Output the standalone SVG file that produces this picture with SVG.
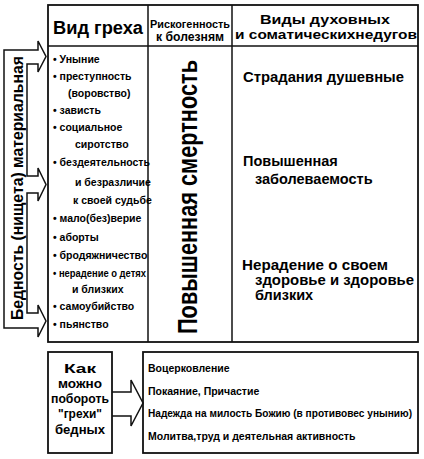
<svg xmlns="http://www.w3.org/2000/svg" width="424" height="459" viewBox="0 0 424 459">
<style>
.box{fill:#fff;stroke:#111;stroke-width:1.8}
.ln{fill:none;stroke:#111;stroke-width:1.5}
.t{font-family:"Liberation Sans",Arial,sans-serif;font-weight:bold;fill:#000}
.item{font-size:10.5px}
.h3{font-size:14.5px}
.bt{font-size:10.5px}
.mid{text-anchor:middle}
</style>
<rect width="424" height="459" fill="#fff"/>

<g id="table">
  <rect class="box" x="48" y="5" width="370" height="337"/>
  <line class="ln" x1="48" y1="46" x2="418" y2="46"/>
  <line class="ln" x1="148" y1="5" x2="148" y2="342"/>
  <line class="ln" x1="232" y1="5" x2="232" y2="342"/>
</g>

<g id="header-sin">
  <text class="t mid" x="98" y="34" font-size="18" textLength="90" lengthAdjust="spacingAndGlyphs">Вид греха</text>
</g>
<g id="header-risk">
  <text class="t mid" x="190" y="28" font-size="11" textLength="80" lengthAdjust="spacingAndGlyphs">Рискогенность</text>
  <text class="t mid" x="190" y="41" font-size="12" textLength="68" lengthAdjust="spacingAndGlyphs">к болезням</text>
</g>
<g id="header-kinds">
  <text class="t mid" x="325" y="24" font-size="12.5" textLength="130" lengthAdjust="spacingAndGlyphs">Виды духовных</text>
  <text class="t mid" x="326" y="38.5" font-size="12.5" textLength="182" lengthAdjust="spacingAndGlyphs">и соматическихнедугов</text>
</g>

<g id="sins" class="t item">
  <text x="53" y="63">• Уныние</text>
  <text x="53" y="80">• преступность</text>
  <text x="68" y="97">(воровство)</text>
  <text x="53" y="114">• зависть</text>
  <text x="53" y="131">• социальное</text>
  <text x="75" y="148">сиротство</text>
  <text x="53" y="166">• бездеятельность</text>
  <text x="75" y="186">и безразличие</text>
  <text x="73" y="204">к своей судьбе</text>
  <text x="53" y="222">• мало(без)верие</text>
  <text x="53" y="241">• аборты</text>
  <text x="53" y="259">• бродяжничество</text>
  <text x="53" y="277" textLength="93" lengthAdjust="spacingAndGlyphs">• нерадение о детях</text>
  <text x="72" y="293">и близких</text>
  <text x="53" y="310">• самоубийство</text>
  <text x="53" y="328">• пьянство</text>
</g>

<g id="mortality">
  <text class="t mid" transform="translate(197,197) rotate(-90)" font-size="28" textLength="274" lengthAdjust="spacingAndGlyphs">Повышенная смертность</text>
</g>

<g id="ailments" class="t h3">
  <text x="243" y="82" textLength="161" lengthAdjust="spacingAndGlyphs">Страдания душевные</text>
  <text x="243" y="166">Повышенная</text>
  <text x="255" y="184">заболеваемость</text>
  <text x="242" y="270" textLength="146" lengthAdjust="spacingAndGlyphs">Нерадение о своем</text>
  <text x="255" y="285" textLength="159" lengthAdjust="spacingAndGlyphs">здоровье и здоровье</text>
  <text x="255" y="300">близких</text>
</g>

<g id="poverty">
  <path class="ln" fill="#fff" d="M4,50 H38 V41 L46,56.5 L38,72 V64 H27 V176 H38 V168 L46,184.5 L38,201 V193 H27 V313 H38 V305 L46,321 L38,337 V328 H4 Z"/>
  <text class="t mid" transform="translate(22.5,188) rotate(-90)" font-size="16.5" textLength="264" lengthAdjust="spacingAndGlyphs">Бедность (нищета) материальная</text>
</g>

<g id="how">
  <rect class="box" x="48" y="352" width="64" height="101"/>
  <g class="t mid" font-size="13.5">
    <text x="80" y="373" textLength="32" lengthAdjust="spacingAndGlyphs">Как</text>
    <text x="80" y="388" textLength="44" lengthAdjust="spacingAndGlyphs">можно</text>
    <text x="80" y="403" textLength="58" lengthAdjust="spacingAndGlyphs">побороть</text>
    <text x="80" y="418" textLength="44" lengthAdjust="spacingAndGlyphs">"грехи"</text>
    <text x="80" y="434" textLength="50" lengthAdjust="spacingAndGlyphs">бедных</text>
  </g>
</g>

<g id="remedies">
  <rect class="box" x="143" y="352" width="275" height="101"/>
  <g class="t bt">
    <text x="148" y="372">Воцерковление</text>
    <text x="148" y="395">Покаяние, Причастие</text>
    <text x="148" y="417" textLength="264" lengthAdjust="spacingAndGlyphs">Надежда на милость Божию (в противовес унынию)</text>
    <text x="148" y="440">Молитва,труд и деятельная активность</text>
  </g>
</g>

<g id="connectors">
  <path class="ln" fill="#fff" d="M112,392 H131 V380 L143,403 L131,426 V416 H112"/>
</g>
</svg>
